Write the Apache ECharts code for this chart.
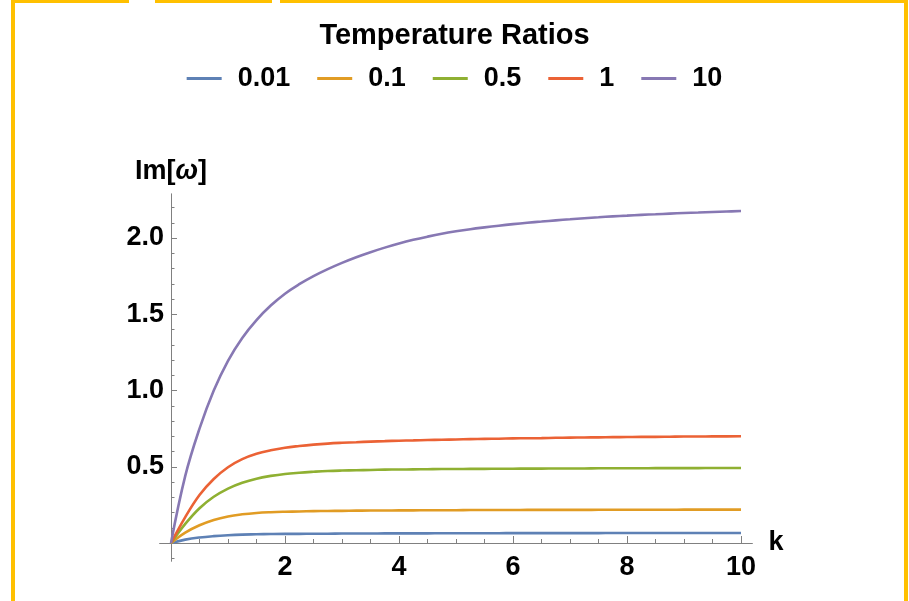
<!DOCTYPE html>
<html>
<head>
<meta charset="utf-8">
<script src="https://cdn.jsdelivr.net/npm/echarts@6/dist/echarts.min.js"></script>
<style>
html,body{margin:0;padding:0;background:#fff;}
#chart{width:909px;height:601px;}
</style>
</head>
<body>
<div id="chart"></div>
<script>
// ---- data ----
const kValues = [0, 0.25, 0.5, 0.75, 1, 1.25, 1.5, 1.75, 2, 2.25, 2.5, 2.75, 3, 3.25, 3.5, 3.75, 4, 4.25, 4.5, 4.75, 5,
                 5.25, 5.5, 5.75, 6, 6.25, 6.5, 6.75, 7, 7.25, 7.5, 7.75, 8, 8.25, 8.5, 8.75, 9, 9.25, 9.5, 9.75, 10];
const seriesNames = ['0.01', '0.1', '0.5', '1', '10'];
const ratio001 = [0, 0.022, 0.036, 0.045, 0.051, 0.055, 0.057, 0.059, 0.060, 0.060, 0.061, 0.061, 0.062, 0.062, 0.062, 0.063, 0.063,
                  0.063, 0.063, 0.064, 0.064, 0.064, 0.064, 0.064, 0.065, 0.065, 0.065, 0.065, 0.065, 0.065, 0.065, 0.066, 0.066,
                  0.066, 0.066, 0.066, 0.066, 0.066, 0.066, 0.066, 0.066];
const ratio01  = [0, 0.068, 0.116, 0.151, 0.174, 0.188, 0.197, 0.202, 0.205, 0.207, 0.209, 0.210, 0.211, 0.212, 0.213, 0.213, 0.214,
                  0.214, 0.215, 0.215, 0.215, 0.216, 0.216, 0.216, 0.216, 0.217, 0.217, 0.217, 0.217, 0.217, 0.218, 0.218, 0.218,
                  0.218, 0.218, 0.218, 0.219, 0.219, 0.219, 0.219, 0.219];
const ratio05  = [0, 0.125, 0.228, 0.303, 0.357, 0.395, 0.422, 0.440, 0.453, 0.461, 0.467, 0.472, 0.475, 0.477, 0.479, 0.481, 0.482,
                  0.483, 0.484, 0.485, 0.485, 0.486, 0.486, 0.487, 0.487, 0.488, 0.488, 0.489, 0.489, 0.489, 0.490, 0.490, 0.490,
                  0.490, 0.491, 0.491, 0.491, 0.491, 0.492, 0.492, 0.492];
const ratio1   = [0, 0.170, 0.315, 0.420, 0.497, 0.550, 0.585, 0.608, 0.625, 0.636, 0.645, 0.652, 0.657, 0.661, 0.665, 0.668, 0.671,
                  0.673, 0.675, 0.677, 0.679, 0.681, 0.683, 0.684, 0.686, 0.687, 0.688, 0.690, 0.691, 0.692, 0.693, 0.694, 0.695,
                  0.696, 0.696, 0.697, 0.698, 0.698, 0.699, 0.699, 0.700];
const ratio10  = [0, 0.440, 0.750, 1.000, 1.195, 1.345, 1.462, 1.557, 1.635, 1.697, 1.750, 1.796, 1.837, 1.874, 1.907, 1.937, 1.964,
                  1.988, 2.009, 2.028, 2.044, 2.058, 2.070, 2.081, 2.091, 2.100, 2.108, 2.116, 2.123, 2.130, 2.136, 2.142, 2.147,
                  2.152, 2.156, 2.160, 2.164, 2.167, 2.171, 2.174, 2.177];
const xMajorTicks = [2, 4, 6, 8, 10];
const xMinorTicks = [0.5, 1, 1.5, 2.5, 3, 3.5, 4.5, 5, 5.5, 6.5, 7, 7.5, 8.5, 9, 9.5];
const yMajorTicks = [0.5, 1.0, 1.5, 2.0];
const yMinorTicks = [-0.1, 0.1, 0.2, 0.3, 0.4, 0.6, 0.7, 0.8, 0.9, 1.1, 1.2, 1.3, 1.4, 1.6, 1.7, 1.8, 1.9, 2.1, 2.2];

const colors = ['#5E81B5', '#E19C24', '#8FB032', '#EB6235', '#8778B3'];
const allSeries = [ratio001, ratio01, ratio05, ratio1, ratio10];

const FONT = 'Liberation Sans, Arial, sans-serif';
const axisColor = '#808080';

const chart = echarts.init(document.getElementById('chart'), null, {renderer: 'canvas'});

const series = allSeries.map((vals, i) => ({
  name: seriesNames[i],
  type: 'line',
  xAxisIndex: 0,
  yAxisIndex: 0,
  data: kValues.map((k, j) => [k, vals[j]]),
  showSymbol: false,
  smooth: 0.4,
  lineStyle: {width: 2.6, color: colors[i]},
  itemStyle: {color: colors[i]},
  z: 3
}));

const labelStyle = {fontFamily: FONT, fontWeight: 'bold', fontSize: 27, color: '#000'};

const option = {
  animation: false,
  backgroundColor: '#fff',
  color: colors,
  title: {
    text: 'Temperature Ratios',
    left: 'center',
    top: 16,
    textStyle: {fontFamily: FONT, fontWeight: 'bold', fontSize: 29, color: '#000'}
  },
  legend: {
    data: seriesNames,
    top: 60,
    left: 'center',
    icon: 'rect',
    itemWidth: 35,
    itemHeight: 3,
    itemGap: 27,
    textStyle: {fontFamily: FONT, fontWeight: 'bold', fontSize: 27, color: '#000', padding: [0, 0, 0, 11]}
  },
  grid: {left: 159.6, right: 156.6, top: 193.8, bottom: 39.7, containLabel: false},
  xAxis: [
    {
      type: 'value', min: -0.2, max: 10.2, position: 'bottom',
      name: 'k', nameLocation: 'end', nameGap: 16,
      nameTextStyle: {fontFamily: FONT, fontWeight: 'bold', fontSize: 27, color: '#000'},
      axisLine: {show: true, onZero: true, onZeroAxisIndex: 0, lineStyle: {color: axisColor, width: 1}},
      axisTick: {show: true, inside: true, length: 7, customValues: xMajorTicks, lineStyle: {color: axisColor}},
      axisLabel: Object.assign({customValues: xMajorTicks, margin: -7}, labelStyle),
      splitLine: {show: false}
    },
    {
      type: 'value', min: -0.2, max: 10.2, position: 'bottom',
      axisLine: {show: false, onZero: true, onZeroAxisIndex: 0},
      axisTick: {show: true, inside: true, length: 4, customValues: xMinorTicks, lineStyle: {color: axisColor}},
      axisLabel: {show: false},
      splitLine: {show: false}
    }
  ],
  yAxis: [
    {
      type: 'value', min: -0.12, max: 2.29, position: 'left',
      name: '{a|Im[}{b|ω}{a|]}', nameLocation: 'end', nameGap: 9,
      nameTextStyle: {
        rich: {
          a: {fontFamily: FONT, fontWeight: 'bold', fontSize: 27, color: '#000'},
          b: {fontFamily: FONT, fontWeight: 'bold', fontStyle: 'italic', fontSize: 27, color: '#000'}
        }
      },
      axisLine: {show: true, onZero: true, onZeroAxisIndex: 0, lineStyle: {color: axisColor, width: 1}},
      axisTick: {show: true, inside: true, length: 6, customValues: yMajorTicks, lineStyle: {color: axisColor}},
      axisLabel: Object.assign({customValues: yMajorTicks, margin: -4.5, formatter: v => v.toFixed(1)}, labelStyle),
      splitLine: {show: false}
    },
    {
      type: 'value', min: -0.12, max: 2.29, position: 'left',
      axisLine: {show: false, onZero: true, onZeroAxisIndex: 0},
      axisTick: {show: true, inside: true, length: 3.5, customValues: yMinorTicks, lineStyle: {color: axisColor}},
      axisLabel: {show: false},
      splitLine: {show: false}
    }
  ],
  graphic: [
    {type: 'rect', shape: {x: 11, y: 0, width: 4, height: 601}, style: {fill: '#FFC000'}, silent: true},
    {type: 'rect', shape: {x: 904, y: 0, width: 4, height: 601}, style: {fill: '#FFC000'}, silent: true},
    {type: 'rect', shape: {x: 11, y: 0, width: 897, height: 3}, style: {fill: '#FFC000'}, silent: true},
    {type: 'rect', shape: {x: 129, y: 0, width: 26, height: 3}, style: {fill: '#fff'}, silent: true},
    {type: 'rect', shape: {x: 272, y: 0, width: 8, height: 3}, style: {fill: '#fff'}, silent: true}
  ],
  series: series
};

chart.setOption(option);
</script>
</body>
</html>
